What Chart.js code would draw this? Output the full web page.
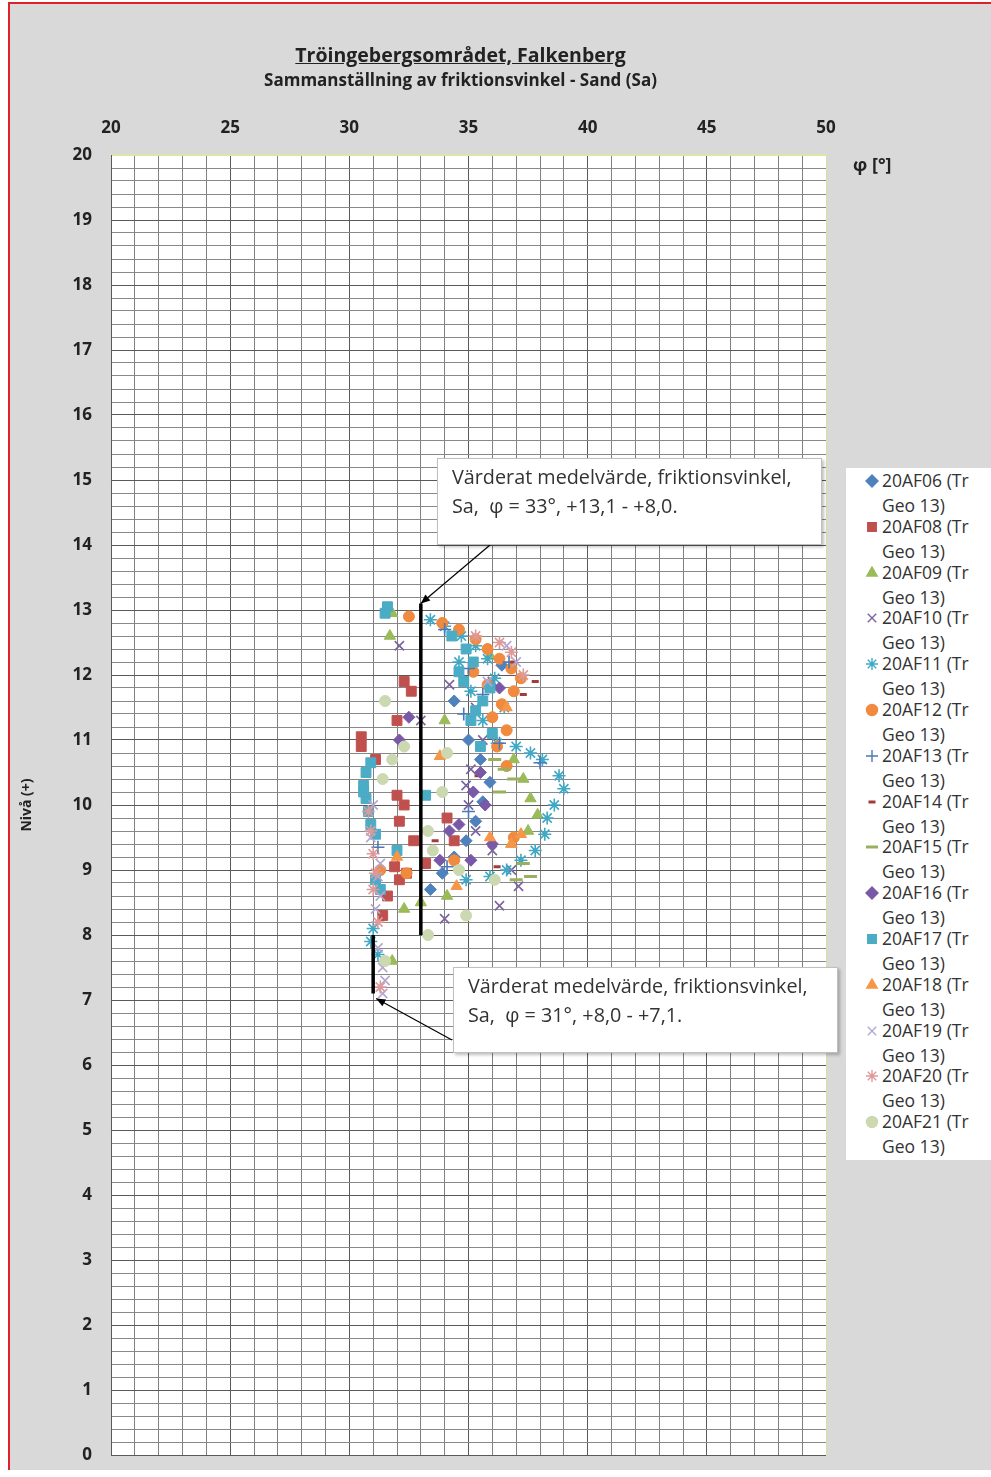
<!DOCTYPE html>
<html>
<head>
<meta charset="utf-8">
<script src="https://cdn.jsdelivr.net/npm/chart.js@4.4.0/dist/chart.umd.min.js"></script>
<style>
  body { margin: 0; background: #fff; font-family: "Open Sans", sans-serif; }
  #wrap { position: relative; width: 991px; height: 1477px; overflow: hidden; }
  #panel { position: absolute; left: 8px; top: 2px; width: 983px; height: 1466px; background: #d9d9d9;
           border-left: 2px solid #e0202a; border-top: 2px solid #e0202a; }
  #cv { position: absolute; left: 0; top: 0; }
  .title { position: absolute; left: 0; width: 921px; text-align: center; color: #222; font-weight: bold; }
  #t1 { top: 41px; font-size: 19.5px; text-decoration: underline; }
  #t2 { top: 68px; font-size: 17px; }
  #phi { position: absolute; left: 853px; top: 152px; font-size: 18px; font-weight: bold; color: #222; }
  .box { position: absolute; background: #fff; border: 1px solid #bfbfbf; box-shadow: 2px 2px 3px rgba(0,0,0,0.25);
         font-size: 19.8px; color: #333; line-height: 29px; padding: 3px 0 0 14px; box-sizing: border-box; white-space: nowrap; }
  #legend { position: absolute; left: 846px; top: 468px; width: 145px; height: 692px; background: #fff; }
  .li { position: absolute; left: 0; width: 145px; font-size: 17.5px; color: #333; line-height: 25px; }
  .li canvas { position: absolute; left: 19px; top: 6px; }
  .li span { position: absolute; left: 36px; white-space: nowrap; }
</style>
</head>
<body>
<div id="wrap">
  <div id="panel"></div>
  <canvas id="cv" width="991" height="1477"></canvas>
  <div class="title" id="t1">Tröingebergsområdet, Falkenberg</div>
  <div class="title" id="t2">Sammanställning av friktionsvinkel -  Sand (Sa)</div>
  <div id="phi">φ [°]</div>
  <div class="box" style="left:437px; top:458px; width:385px; height:87px;">Värderat medelvärde, friktionsvinkel,<br>Sa,&nbsp; φ = 33°, +13,1 - +8,0.</div>
  <div class="box" style="left:453px; top:967px; width:385px; height:86px;">Värderat medelvärde, friktionsvinkel,<br>Sa,&nbsp; φ = 31°, +8,0 - +7,1.</div>
  <div id="legend"></div>
</div>
<script>
// friktionsvinkel (phi) och nivå per sondering
const phi06 = [33.4, 33.9, 34.4, 34.9, 35.3, 35.6, 35.9, 35.5, 35.0, 34.4, 36.4];
const niva06 = [8.7, 8.95, 9.2, 9.45, 9.75, 10.05, 10.35, 10.7, 11.0, 11.6, 12.15];
const phi08 = [32.3, 32.6, 32.0, 30.5, 30.5, 31.1, 32.0, 32.3, 32.1, 32.7, 33.2, 34.4, 32.1, 31.6, 31.4, 32.4, 34.1, 31.9];
const niva08 = [11.9, 11.75, 11.3, 11.05, 10.9, 10.7, 10.15, 10.0, 9.75, 9.45, 9.1, 9.45, 8.85, 8.6, 8.3, 8.95, 9.8, 9.05];
const phi09 = [31.8, 31.7, 36.9, 37.3, 37.6, 37.9, 37.5, 36.8, 34.1, 33.0, 32.3, 31.8, 34.0, 35.9];
const niva09 = [12.95, 12.6, 10.7, 10.4, 10.1, 9.85, 9.6, 9.4, 8.6, 8.5, 8.4, 7.6, 11.3, 12.3];
const phi10 = [32.1, 34.2, 33.0, 35.6, 35.1, 34.9, 35.0, 35.3, 36.0, 36.8, 37.1, 36.3, 34.0, 36.0, 35.3];
const niva10 = [12.45, 11.85, 11.3, 11.0, 10.55, 10.3, 10.0, 9.6, 9.3, 9.0, 8.75, 8.45, 8.25, 11.9, 11.5];
const phi11 = [33.4, 34.0, 34.7, 35.3, 35.8, 36.1, 36.5, 37.0, 37.6, 38.1, 38.8, 39.0, 38.6, 38.3, 38.2, 37.8, 37.2, 36.6, 35.9, 34.9, 31.0, 30.9, 31.2, 34.6, 35.1, 35.6, 36.2];
const niva11 = [12.85, 12.75, 12.6, 12.45, 12.25, 11.95, 11.5, 10.9, 10.8, 10.7, 10.45, 10.25, 10.0, 9.8, 9.55, 9.3, 9.15, 9.0, 8.9, 8.85, 8.1, 7.9, 7.7, 12.2, 11.75, 11.3, 10.95];
const phi12 = [32.5, 33.9, 34.6, 35.3, 35.8, 36.3, 36.8, 37.2, 36.9, 36.4, 36.0, 36.6, 36.2, 34.4, 31.3, 35.2, 35.8, 36.6, 36.9, 32.4];
const niva12 = [12.9, 12.8, 12.7, 12.55, 12.4, 12.25, 12.1, 11.95, 11.75, 11.55, 11.35, 11.15, 10.9, 9.15, 9.0, 12.05, 11.85, 10.6, 9.5, 8.95];
const phi13 = [34.0, 35.0, 35.6, 34.8, 36.3, 38.0, 35.0, 34.1, 31.2, 36.7];
const niva13 = [12.7, 12.1, 11.7, 11.4, 10.95, 10.65, 9.9, 9.05, 9.35, 12.2];
const phi14 = [37.8, 36.9, 36.2, 35.4, 33.6, 37.3];
const niva14 = [11.9, 12.2, 9.05, 10.45, 9.45, 11.7];
const phi15 = [36.1, 36.5, 36.9, 37.0, 37.6, 37.3, 36.3];
const niva15 = [10.7, 10.55, 10.4, 8.85, 8.9, 9.1, 10.2];
const phi16 = [32.1, 35.5, 35.2, 35.7, 34.2, 36.0, 35.1, 33.8, 34.6, 32.5, 36.3];
const niva16 = [11.0, 10.5, 10.2, 10.0, 9.6, 9.4, 9.15, 9.15, 9.7, 11.35, 11.8];
const phi17 = [31.6, 31.5, 34.9, 35.2, 34.8, 35.6, 35.1, 33.2, 30.7, 30.6, 30.7, 30.8, 30.9, 31.1, 32.0, 31.1, 34.3, 34.6, 35.3, 35.9, 36.0, 35.5, 30.6, 30.9, 31.3];
const niva17 = [13.05, 12.95, 12.4, 12.2, 11.9, 11.6, 11.3, 10.15, 10.5, 10.3, 10.1, 9.9, 9.7, 9.55, 9.3, 8.85, 12.6, 12.05, 11.45, 11.8, 11.1, 10.9, 10.2, 10.65, 8.7];
const phi18 = [33.8, 37.2, 36.8, 35.9, 34.5, 32.0, 36.6];
const niva18 = [10.75, 9.55, 9.4, 9.5, 8.75, 9.2, 11.5];
const phi19 = [31.3, 31.2, 31.3, 31.1, 31.2, 31.4, 31.5, 31.4, 36.6, 35.8, 30.9, 31.0, 37.0];
const niva19 = [9.1, 8.9, 8.6, 8.4, 7.8, 7.5, 7.3, 7.1, 12.45, 11.9, 9.5, 10.0, 12.2];
const phi20 = [36.3, 36.8, 31.0, 31.1, 31.0, 31.2, 31.3, 30.9, 35.3, 37.3, 30.8];
const niva20 = [12.5, 12.35, 9.25, 8.95, 8.7, 8.2, 7.2, 9.6, 12.6, 12.0, 9.9];
const phi21 = [31.5, 33.3, 34.9, 33.3, 31.5, 36.1, 34.6, 32.3, 33.9, 31.4, 31.8, 33.5, 34.1];
const niva21 = [11.6, 9.6, 8.3, 8.0, 7.6, 8.85, 9.0, 10.9, 10.2, 10.4, 10.7, 9.3, 10.8];

// värderade medelvärden
const medel1Phi = [33, 33];
const medel1Niva = [13.1, 8.0];
const medel2Phi = [31, 31];
const medel2Niva = [8.0, 7.1];

const xTicks = [20, 25, 30, 35, 40, 45, 50];

const serier = [
  ['20AF06', phi06, niva06, 'rectRot', '#4F81BD', 6],
  ['20AF08', phi08, niva08, 'rect', '#C0504D', 7],
  ['20AF09', phi09, niva09, 'triangle', '#9BBB59', 6.5],
  ['20AF10', phi10, niva10, 'crossRot', '#7B62A0', 6.5],
  ['20AF11', phi11, niva11, 'star', '#3FA8C4', 6.5],
  ['20AF12', phi12, niva12, 'circle', '#F08A3E', 5.5],
  ['20AF13', phi13, niva13, 'cross', '#4A78B8', 6.5],
  ['20AF14', phi14, niva14, 'line', '#A33B38', 3.5],
  ['20AF15', phi15, niva15, 'line', '#98B060', 6.5],
  ['20AF16', phi16, niva16, 'rectRot', '#7A58A8', 6],
  ['20AF17', phi17, niva17, 'rect', '#4BACC6', 7],
  ['20AF18', phi18, niva18, 'triangle', '#F79646', 6.5],
  ['20AF19', phi19, niva19, 'crossRot', '#B3A6D0', 6.5],
  ['20AF20', phi20, niva20, 'star', '#DE9A9A', 6.5],
  ['20AF21', phi21, niva21, 'circle', '#CCD9B0', 5.5]
];

function pts(xs, ys) {
  return xs.map((v, i) => ({ x: v, y: ys[i] }));
}

const datasets = serier.map((s, i) => ({
  label: s[0] + ' (Tr Geo 13)',
  data: pts(s[1], s[2]),
  pointStyle: s[3],
  pointRadius: s[5],
  pointHoverRadius: s[5],
  pointBackgroundColor: s[4],
  pointBorderColor: s[4],
  pointBorderWidth: s[3] === 'line' ? 3 : (s[3] === 'crossRot' || s[3] === 'cross' || s[3] === 'star' ? 1.6 : 1),
  showLine: false,
  order: serier.length - i
}));

[[medel1Phi, medel1Niva], [medel2Phi, medel2Niva]].forEach(m => {
  datasets.push({
    label: 'medel',
    data: pts(m[0], m[1]),
    showLine: true,
    borderColor: '#000',
    borderWidth: 3.5,
    pointRadius: 0,
    order: -1
  });
});

function isInt(v) { return Math.abs(v - Math.round(v)) < 1e-6; }

function arrow(ctx, x1, y1, x2, y2) {
  const a = Math.atan2(y2 - y1, x2 - x1);
  ctx.save();
  ctx.strokeStyle = '#000';
  ctx.fillStyle = '#000';
  ctx.lineWidth = 1.2;
  ctx.beginPath();
  ctx.moveTo(x1, y1);
  ctx.lineTo(x2, y2);
  ctx.stroke();
  ctx.beginPath();
  ctx.moveTo(x2, y2);
  ctx.lineTo(x2 - 10 * Math.cos(a - 0.4), y2 - 10 * Math.sin(a - 0.4));
  ctx.lineTo(x2 - 10 * Math.cos(a + 0.4), y2 - 10 * Math.sin(a + 0.4));
  ctx.closePath();
  ctx.fill();
  ctx.restore();
}

const plotBg = {
  id: 'plotBg',
  beforeDraw(chart) {
    const a = chart.chartArea, ctx = chart.ctx;
    ctx.save();
    ctx.fillStyle = '#fff';
    ctx.fillRect(a.left, a.top, a.right - a.left, a.bottom - a.top);
    ctx.restore();
  },
  afterDatasetsDraw(chart) {
    const xs = chart.scales.x, ys = chart.scales.y, ctx = chart.ctx;
    arrow(ctx, 490, 545, xs.getPixelForValue(medel1Phi[0]), ys.getPixelForValue(medel1Niva[0]));
    arrow(ctx, 452, 1040, xs.getPixelForValue(medel2Phi[1]) + 3, ys.getPixelForValue(medel2Niva[1]) + 5);
  }
};

new Chart(document.getElementById('cv').getContext('2d'), {
  type: 'scatter',
  data: { datasets: datasets },
  options: {
    responsive: false,
    animation: false,
    layout: { padding: { left: 12, right: 165, top: 110, bottom: 22 } },
    plugins: { legend: { display: false }, tooltip: { enabled: false } },
    scales: {
      x: {
        position: 'top',
        min: 20, max: 50,
        afterFit: s => { s.height = 45; },
        afterBuildTicks: s => {
          const t = [];
          for (let v = 20; v <= 50; v++) t.push({ value: v });
          s.ticks = t;
        },
        ticks: {
          padding: 17,
          color: '#222',
          font: { family: 'Open Sans', size: 17, weight: 'bold' },
          autoSkip: false,
          maxRotation: 0,
          callback: v => xTicks.includes(v) ? String(v) : ''
        },
        grid: {
          drawTicks: false,
          color: c => c.tick.value === 50 ? '#d9e19c' : (c.tick.value % 5 === 0 ? '#5a5a5a' : '#808080'),
          lineWidth: 1
        },
        border: { color: '#dde5a8', width: 2 }
      },
      y: {
        min: 0, max: 20,
        afterFit: s => { s.width = 99; s.paddingTop = 10; s.paddingBottom = 10; },
        afterBuildTicks: s => {
          const t = [];
          for (let k = 0; k <= 100; k++) t.push({ value: k / 5 });
          s.ticks = t;
        },
        ticks: {
          padding: 19,
          color: '#222',
          font: { family: 'Open Sans', size: 17, weight: 'bold' },
          autoSkip: false,
          callback: v => isInt(v) ? String(Math.round(v)) : ''
        },
        grid: {
          drawTicks: false,
          color: c => isInt(c.tick.value) ? (c.tick.value === 20 ? '#dde5a8' : '#5a5a5a') : '#888888',
          lineWidth: 1
        },
        border: { color: '#5a5a5a', width: 1 },
        title: {
          display: true,
          text: 'Nivå (+)',
          color: '#222',
          font: { family: 'Open Sans', size: 14, weight: 'bold' },
          padding: { top: 7, bottom: 0 }
        }
      }
    }
  },
  plugins: [plotBg]
});

// förklaring
const legend = document.getElementById('legend');
serier.forEach((s, i) => {
  const d = document.createElement('div');
  d.className = 'li';
  d.style.top = (i * 45.8) + 'px';
  const c = document.createElement('canvas');
  c.width = 14; c.height = 14;
  d.appendChild(c);
  const t1 = document.createElement('span');
  t1.style.top = '0px';
  t1.textContent = s[0] + ' (Tr';
  const t2 = document.createElement('span');
  t2.style.top = '25px';
  t2.textContent = 'Geo 13)';
  d.appendChild(t1); d.appendChild(t2);
  legend.appendChild(d);
  const cx = c.getContext('2d');
  cx.fillStyle = s[4]; cx.strokeStyle = s[4];
  cx.lineWidth = s[3] === 'line' ? 3 : 1.4;
  if (Chart.helpers && Chart.helpers.drawPoint) {
    Chart.helpers.drawPoint(cx, { pointStyle: s[3], radius: Math.min(s[5], 6), borderWidth: cx.lineWidth, rotation: 0 }, 7, 7);
  }
});
</script>
</body>
</html>
